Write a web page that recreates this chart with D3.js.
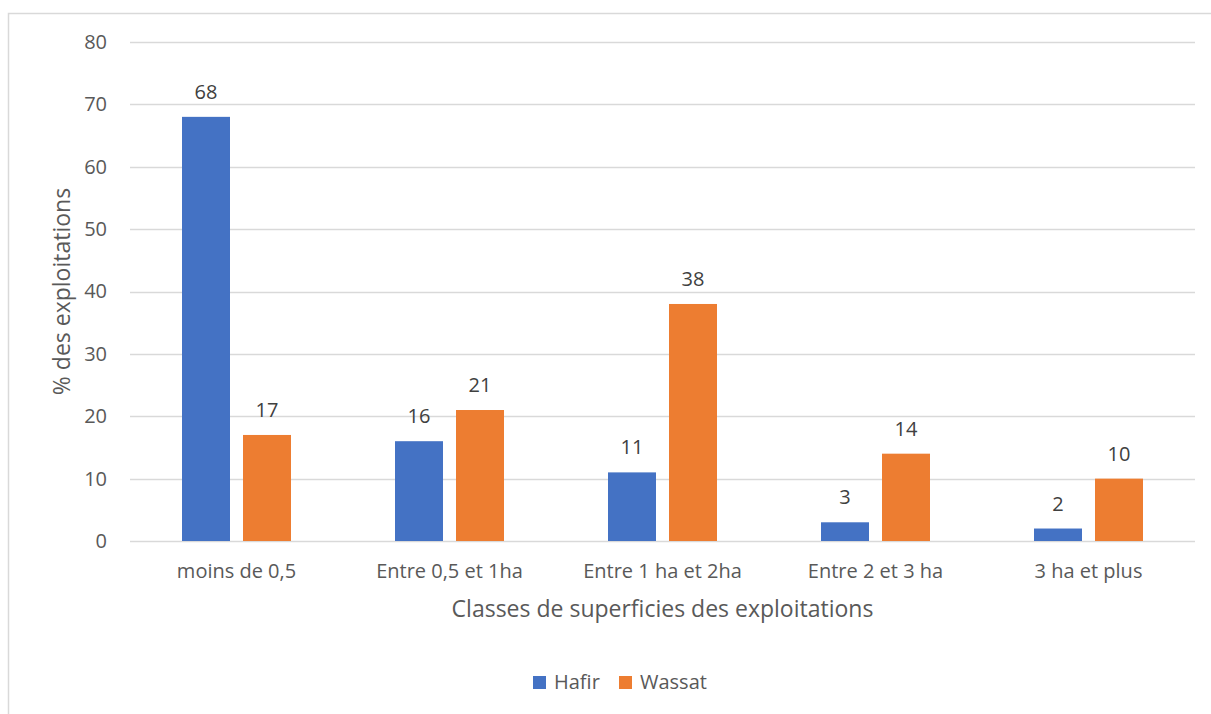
<!DOCTYPE html>
<html>
<head>
<meta charset="utf-8">
<script src="https://cdn.jsdelivr.net/npm/d3@7"></script>
<style>
	body { margin: 0; background: #fff; }
	text { font-family: "Open Sans", "Noto Sans", sans-serif; }
</style>
</head>
<body>
<div id="chart"></div>
<script>

// data
// ----------------------------------------

var categories = ["moins de 0,5", "Entre 0,5 et 1ha", "Entre 1 ha et 2ha", "Entre 2 et 3 ha", "3 ha et plus"];
var series_names = ["Hafir", "Wassat"];
var hafir = [68, 16, 11, 3, 2];
var wassat = [17, 21, 38, 14, 10];
var y_ticks = [0, 10, 20, 30, 40, 50, 60, 70, 80];

var colors = ["#4472C4", "#ED7D31"];

// main variables
// ----------------------------------------

var width = 1211,
	height = 714;

var margin = {top: 42, right: 16, bottom: 173, left: 130};

var svg = d3.select("#chart")
	.append("svg")
	.attr("width", width)
	.attr("height", height);

// chart frame (runs off right / bottom edge)
svg.append("rect")
	.attr("x", 8.5)
	.attr("y", 13.5)
	.attr("width", width + 20)
	.attr("height", height + 20)
	.attr("fill", "#fff")
	.attr("stroke", "#D9D9D9")
	.attr("stroke-width", 1.5);

var plot = svg.append("g")
	.attr("transform", "translate(" + margin.left + "," + margin.top + ")");

var w = 1195 - margin.left,
	h = 541 - margin.top;

var x = d3.scaleBand()
	.domain(categories)
	.range([0, w]);

var x1 = d3.scaleBand()
	.domain(series_names)
	.range([0, 109])
	.paddingInner(13 / 61);

var y = d3.scaleLinear()
	.domain([0, 80])
	.range([h, 0]);

// gridlines
plot.append("g")
	.attr("class", "grid")
	.selectAll("line")
	.data(y_ticks)
	.enter()
	.append("line")
	.attr("x1", 0)
	.attr("x2", w)
	.attr("y1", function(d) { return Math.round(y(d)) + 0.5; })
	.attr("y2", function(d) { return Math.round(y(d)) + 0.5; })
	.attr("stroke", "#D9D9D9")
	.attr("stroke-width", 1.5);

// y axis labels
var yAxis = d3.axisLeft(y)
	.tickValues(y_ticks)
	.tickSize(0)
	.tickPadding(23);

plot.append("g")
	.call(yAxis)
	.call(function(g) { g.select(".domain").remove(); })
	.selectAll("text")
	.attr("fill", "#595959")
	.style("font-size", "20px");

// bars
var rows = categories.map(function(c, i) {
	return {cat: c, values: [
		{name: series_names[0], value: hafir[i], color: colors[0]},
		{name: series_names[1], value: wassat[i], color: colors[1]}
	]};
});

var groups = plot.selectAll(".group")
	.data(rows)
	.enter()
	.append("g")
	.attr("class", "group")
	.attr("transform", function(d) {
		return "translate(" + (x(d.cat) + (x.bandwidth() - 109) / 2) + ",0)";
	});

groups.selectAll("rect")
	.data(function(d) { return d.values; })
	.enter()
	.append("rect")
	.attr("x", function(d) { return x1(d.name); })
	.attr("y", function(d) { return y(d.value); })
	.attr("width", x1.bandwidth())
	.attr("height", function(d) { return h - y(d.value); })
	.attr("fill", function(d) { return d.color; });

groups.selectAll(".val")
	.data(function(d) { return d.values; })
	.enter()
	.append("text")
	.attr("class", "val")
	.attr("x", function(d) { return x1(d.name) + x1.bandwidth() / 2; })
	.attr("y", function(d) { return y(d.value) - 18; })
	.attr("text-anchor", "middle")
	.attr("fill", "#404040")
	.style("font-size", "20px")
	.text(function(d) { return d.value; });

// x axis
var xAxis = d3.axisBottom(x)
	.tickSize(0)
	.tickPadding(23);

plot.append("g")
	.attr("transform", "translate(0," + h + ")")
	.call(xAxis)
	.call(function(g) { g.select(".domain").remove(); })
	.selectAll("text")
	.attr("fill", "#595959")
	.style("font-size", "20px");

// axis titles
svg.append("text")
	.attr("x", margin.left + w / 2)
	.attr("y", 617)
	.attr("text-anchor", "middle")
	.attr("fill", "#595959")
	.style("font-size", "23px")
	.text("Classes de superficies des exploitations");

svg.append("text")
	.attr("transform", "translate(70," + (margin.top + h / 2) + ") rotate(-90)")
	.attr("text-anchor", "middle")
	.attr("fill", "#595959")
	.style("font-size", "23px")
	.text("% des exploitations");

// legend
var legend = svg.append("g")
	.attr("transform", "translate(533,676)");

var items = legend.selectAll(".item")
	.data(series_names)
	.enter()
	.append("g")
	.attr("class", "item")
	.attr("transform", function(d, i) { return "translate(" + (i * 86) + ",0)"; });

items.append("rect")
	.attr("width", 13)
	.attr("height", 13)
	.attr("fill", function(d, i) { return colors[i]; });

items.append("text")
	.attr("x", 21)
	.attr("y", 13)
	.attr("fill", "#595959")
	.style("font-size", "20px")
	.text(function(d) { return d; });

</script>
</body>
</html>
